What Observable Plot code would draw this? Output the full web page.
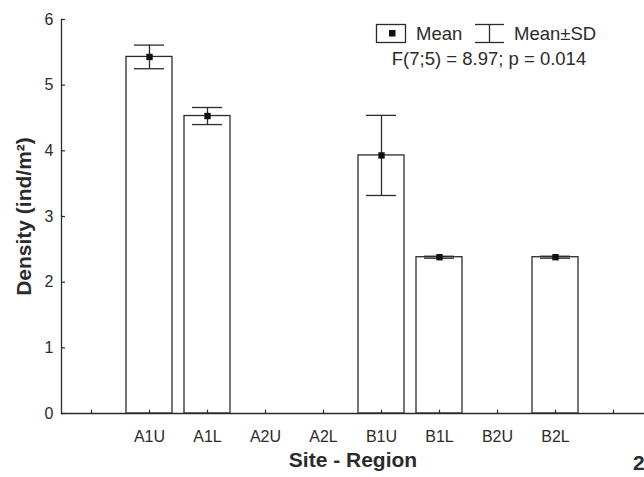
<!DOCTYPE html>
<html>
<head>
<meta charset="utf-8">
<script src="https://cdn.jsdelivr.net/npm/d3@7"></script>
<script src="https://cdn.jsdelivr.net/npm/@observablehq/plot@0.6"></script>
<style>
  html, body { margin: 0; padding: 0; background: #fff; }
  #wrap { position: relative; width: 644px; height: 477px; font-family: "Liberation Sans", Arial, sans-serif; }
  #legend { position: absolute; left: 0; top: 0; pointer-events: none; }
</style>
</head>
<body>
<div id="wrap"></div>
<script>
// ---- data ----
const sites = ["A1U", "A1L", "A2U", "A2L", "B1U", "B1L", "B2U", "B2L"];
const means = [5.43, 4.53, null, null, 3.93, 2.38, null, 2.38];
const sds   = [0.18, 0.13, null, null, 0.61, 0.015, null, 0.015];
const yTicks = [0, 1, 2, 3, 4, 5, 6];
const xDomain = ["", ...sites, " "];
const legendLabels = ["Mean", "Mean±SD"];
const statText = "F(7;5) = 8.97; p = 0.014";

const data = sites.map((s, i) => ({site: s, mean: means[i], sd: sds[i]}))
  .filter(d => d.mean != null);

const ink = "#2b2b2b";

const plot = Plot.plot({
  width: 644,
  height: 477,
  marginLeft: 61,
  marginRight: 0,
  marginTop: 19,
  marginBottom: 64,
  style: {fontFamily: "'Liberation Sans', Arial, sans-serif", color: ink, background: "white", fontSize: "15px"},
  x: {type: "band", domain: xDomain, paddingInner: 0.2, paddingOuter: 0.1, label: null},
  y: {domain: [0, 6], label: null},
  marks: [
    Plot.barY(data, {x: "site", y: "mean", fill: "white", stroke: ink, strokeWidth: 1.3}),
    Plot.ruleX(data, {x: "site", y1: d => d.mean - d.sd, y2: d => d.mean + d.sd, stroke: ink, strokeWidth: 1.3}),
    Plot.tickY(data, {x: "site", y: d => d.mean + d.sd, stroke: ink, strokeWidth: 1.3, insetLeft: 8, insetRight: 8}),
    Plot.tickY(data, {x: "site", y: d => d.mean - d.sd, stroke: ink, strokeWidth: 1.3, insetLeft: 8, insetRight: 8}),
    Plot.dot(data, {x: "site", y: "mean", symbol: "square", r: 3.6, fill: "#111", stroke: null}),
    // axis lines
    Plot.frame({anchor: "left", stroke: ink, strokeWidth: 1.3}),
    Plot.ruleY([0], {stroke: ink, strokeWidth: 1.3}),
    // inward ticks
    Plot.tickY(yTicks, {y: d => d, stroke: ink, strokeWidth: 1.2, insetRight: 644 - 61 - 4}),
    Plot.ruleX(xDomain, {x: d => d, y1: 0, y2: 0.05, stroke: ink, strokeWidth: 1.2}),
    Plot.axisY({ticks: yTicks, tickSize: 0, tickPadding: 8, tickFormat: d => String(d), fontSize: 16, color: ink}),
    Plot.axisX({tickSize: 0, tickPadding: 17, fontSize: 16, tickFormat: d => d.trim()}),
    Plot.text(["Density (ind/m²)"], {frameAnchor: "left", dx: -37, rotate: -90, text: d => d,
      fontSize: 21, fontWeight: "bold", fill: ink, textAnchor: "middle"}),
    Plot.text(["Site - Region"], {frameAnchor: "bottom", dy: 53, text: d => d,
      fontSize: 21, fontWeight: "bold", fill: ink, textAnchor: "middle"})
  ]
});

const wrap = document.getElementById("wrap");
wrap.appendChild(plot);

// legend overlay
const NS = "http://www.w3.org/2000/svg";
const svg = document.createElementNS(NS, "svg");
svg.setAttribute("id", "legend");
svg.setAttribute("width", 644);
svg.setAttribute("height", 477);
svg.innerHTML = `
  <g font-family="'Liberation Sans', Arial, sans-serif" fill="${ink}">
    <rect x="376.5" y="24.5" width="29" height="18" fill="white" stroke="${ink}" stroke-width="1.3"/>
    <rect x="389" y="30" width="6.5" height="6.5" fill="#111"/>
    <text x="416" y="40" font-size="18.5">${legendLabels[0]}</text>
    <g stroke="${ink}" stroke-width="1.3">
      <line x1="475" x2="504" y1="24.5" y2="24.5"/>
      <line x1="475" x2="504" y1="42.5" y2="42.5"/>
      <line x1="489.5" x2="489.5" y1="24.5" y2="42.5"/>
    </g>
    <text x="514" y="40" font-size="18.5">${legendLabels[1]}</text>
    <text x="489" y="65" font-size="18.5" text-anchor="middle">${statText}</text>
    <text x="633" y="470" font-size="21" font-weight="bold">2</text>
  </g>`;
wrap.appendChild(svg);
</script>
</body>
</html>
